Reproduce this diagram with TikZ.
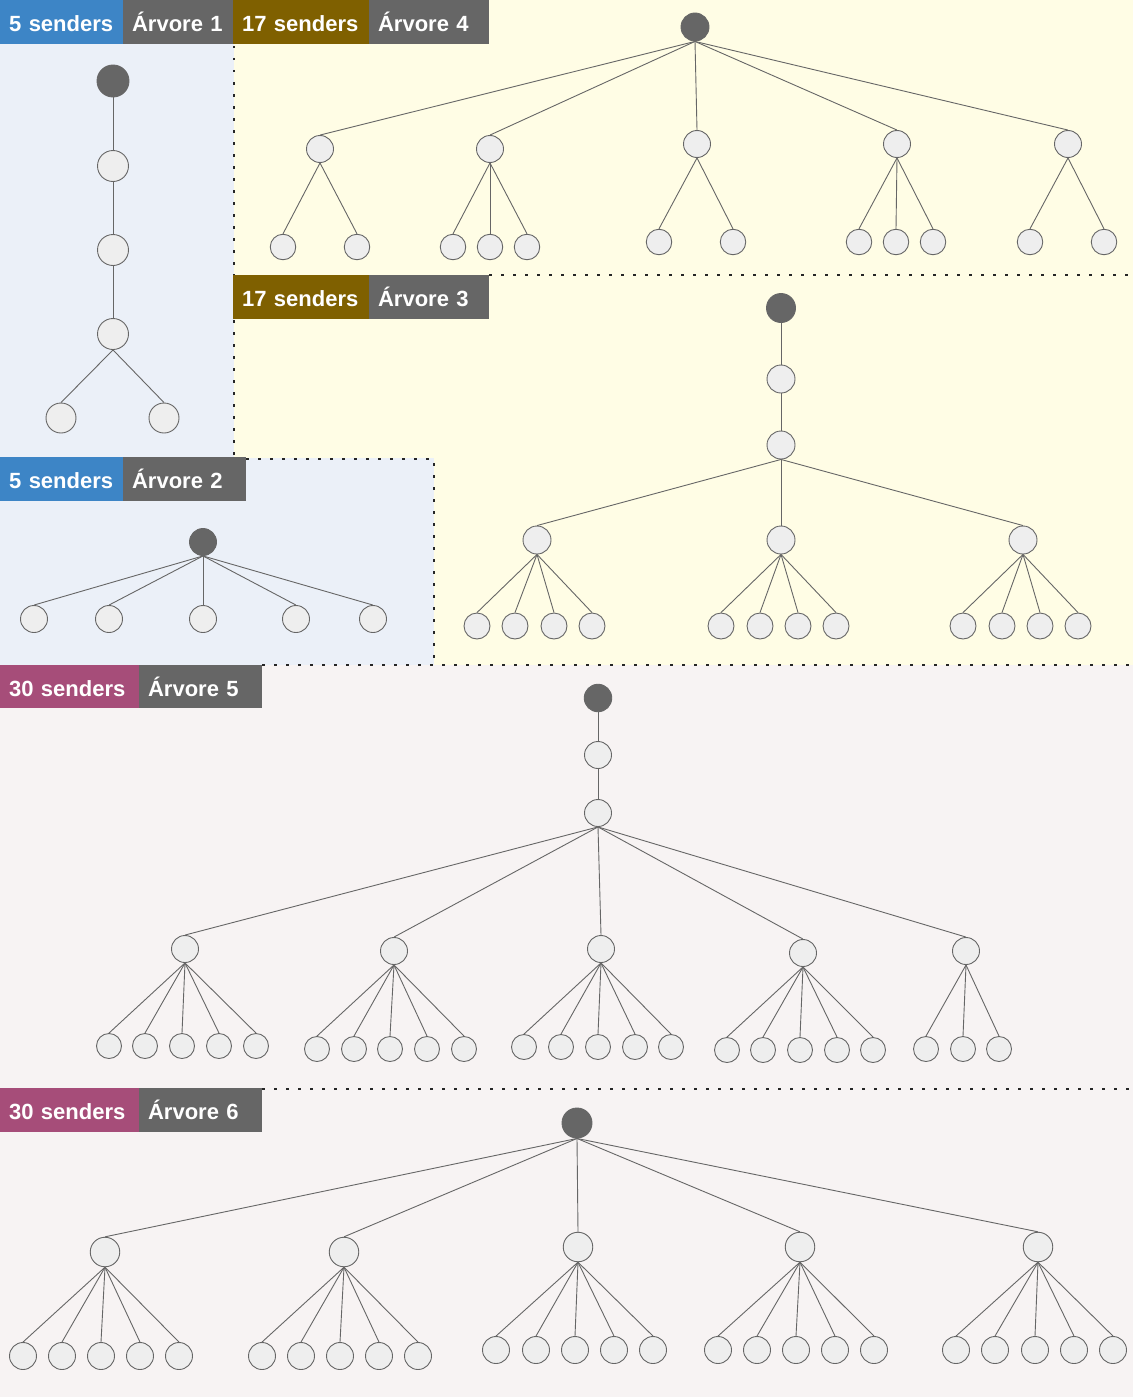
\documentclass[tikz,border=0pt]{standalone}
\usepackage{fontspec}
\setmainfont{Liberation Sans}
\usetikzlibrary{positioning}
\definecolor{sblue}{HTML}{3D85C6}
\definecolor{sbrown}{HTML}{7F6000}
\definecolor{spink}{HTML}{A64D79}
\definecolor{sgrey}{HTML}{666666}
\definecolor{bgblue}{HTML}{EBF0F8}
\definecolor{bgyellow}{HTML}{FFFDE5}
\definecolor{bgpink}{HTML}{F7F3F3}
\definecolor{ndfill}{HTML}{EEEEEE}
\tikzset{
  tag/.style={anchor=north west, fill=sgrey, text=white, inner xsep=9pt, inner ysep=0pt,
    minimum height=43.5pt, align=left, text height=22pt, text depth=2pt,
    font=\bfseries\fontsize{22}{24}\selectfont},
  nd/.style={circle, draw=sgrey, fill=ndfill, line width=0.9pt, inner sep=0pt, minimum size=#1},
  nd/.default=26pt,
  rt/.style={nd=#1, fill=sgrey},
  rt/.default=28pt,
  ed/.style={draw=sgrey, line width=0.9pt},
  sep/.style={draw=black!85, line width=2.5pt, dash pattern=on 2.5pt off 9.5pt},
}
\begin{document}
\begin{tikzpicture}[x=1pt, y=-1pt]
  \useasboundingbox (0,0) rectangle (1133,1397);
  % areas
  \fill[bgpink] (0,0) rectangle (1133,1397);
  \fill[bgyellow] (234,0) rectangle (1133,665);
  \fill[bgblue] (0,0) rectangle (234,458);
  \fill[bgblue] (0,458) rectangle (434,665);

  % tags
  \node[tag, fill=sblue, text width=105pt] (s1) at (0,0) {5 senders};
  \node[tag, text width=92pt, right=-0.5pt of s1] (a1) {Árvore 1};
  \node[tag, fill=sbrown, text width=118pt] (s4) at (233,0) {17 senders};
  \node[tag, text width=102pt, right=-0.5pt of s4] (a4) {Árvore 4};
  \node[tag, fill=sbrown, text width=118pt] (s3) at (233,275) {17 senders};
  \node[tag, text width=102pt, right=-0.5pt of s3] (a3) {Árvore 3};
  \node[tag, fill=sblue, text width=105pt] (s2) at (0,457) {5 senders};
  \node[tag, text width=104.7pt, right=-0.5pt of s2] (a2) {Árvore 2};
  \node[tag, fill=spink, text width=121pt] (s5) at (0,664.5) {30 senders};
  \node[tag, text width=105pt, right=-0.5pt of s5] (a5) {Árvore 5};
  \node[tag, fill=spink, text width=121pt] (s6) at (0,1088) {30 senders};
  \node[tag, text width=105pt, right=-0.5pt of s6] (a6) {Árvore 6};

  % dotted borders
  \draw[sep] (234,46) -- (234,275);
  \draw[sep] (234,320) -- (234,458);
  \draw[sep] (a3.north east) -- (1133,275);
  \draw[sep] (a2.north east |- 0,459) -- (434,459) -- (434,665);
  \draw[sep] (a5.north east |- 0,665) -- (1133,665);
  \draw[sep] (a6.north east |- 0,1089) -- (1133,1089);

  % Arvore 1
  \node[rt=32pt] (r1) at (113,81) {};
  \node[nd=31pt] (r1a) at (113,166) {};
  \node[nd=31pt] (r1b) at (113,250) {};
  \node[nd=31pt] (r1c) at (113,334) {};
  \node[nd=30pt] (r1l1) at (61,418) {};
  \node[nd=30pt] (r1l2) at (164,418) {};
  \draw[ed] (r1) -- (r1a) -- (r1b) -- (r1c);
  \draw[ed] (r1c.south) -- (r1l1.north);
  \draw[ed] (r1c.south) -- (r1l2.north);

  % Arvore 2
  \node[rt=27pt] (r2) at (203,542) {};
  \foreach \x [count=\i] in {34,109,203,296,373}{
    \node[nd=27pt] (r2l\i) at (\x,619) {};
    \draw[ed] (r2.south) -- (r2l\i.north);
  }

  % Arvore 4
  \node[rt=28pt] (r4) at (695,27) {};
  \foreach \x/\y [count=\i] in {320/149, 490/149, 697/144, 897/144, 1068/144}{
    \node[nd=27pt] (r4c\i) at (\x,\y) {};
    \draw[ed] (r4.south) -- (r4c\i.north);
  }
  \foreach \p/\x/\y [count=\i] in {1/283/247, 1/357/247, 2/453/247, 2/490/247, 2/527/247,
      3/659/242, 3/733/242, 4/859/242, 4/896/242, 4/933/242, 5/1030/242, 5/1104/242}{
    \node[nd=25.5pt] (r4l\i) at (\x,\y) {};
    \draw[ed] (r4c\p.south) -- (r4l\i.north);
  }

  % Arvore 3
  \node[rt=29pt] (r3) at (781,308) {};
  \node[nd=28pt] (r3a) at (781,379) {};
  \node[nd=28pt] (r3b) at (781,445) {};
  \draw[ed] (r3) -- (r3a) -- (r3b);
  \foreach \x [count=\i] in {537,781,1023}{
    \node[nd=28pt] (r3c\i) at (\x,540) {};
    \draw[ed] (r3b.south) -- (r3c\i.north);
  }
  \foreach \p/\x [count=\i] in {1/477,1/515,1/554,1/592, 2/721,2/760,2/798,2/836,
      3/963,3/1002,3/1040,3/1078}{
    \node[nd=26pt] (r3l\i) at (\x,626) {};
    \draw[ed] (r3c\p.south) -- (r3l\i.north);
  }

  % Arvore 5
  \node[rt=27.5pt] (r5) at (598,698) {};
  \node[nd=27pt] (r5a) at (598,755) {};
  \node[nd=27pt] (r5b) at (598,813) {};
  \draw[ed] (r5) -- (r5a) -- (r5b);
  \foreach \x/\y [count=\i] in {185/949, 394/951, 601/949, 803/953, 966/951}{
    \node[nd=27pt] (r5c\i) at (\x,\y) {};
    \draw[ed] (r5b.south) -- (r5c\i.north);
  }
  \foreach \p/\x/\y [count=\i] in {1/109/1046, 1/145/1046, 1/182/1046, 1/219/1046, 1/256/1046,
      2/317/1049, 2/354/1049, 2/390/1049, 2/427/1049, 2/464/1049,
      3/524/1047, 3/561/1047, 3/598/1047, 3/635/1047, 3/671/1047,
      4/727/1050, 4/763/1050, 4/800/1050, 4/837/1050, 4/873/1050,
      5/926/1049, 5/963/1049, 5/999/1049}{
    \node[nd=25pt] (r5l\i) at (\x,\y) {};
    \draw[ed] (r5c\p.south) -- (r5l\i.north);
  }

  % Arvore 6
  \node[rt=30pt] (r6) at (577,1123) {};
  \foreach \x/\y [count=\i] in {105/1252, 344/1252, 578/1247, 800/1247, 1038/1247}{
    \node[nd=29.5pt] (r6c\i) at (\x,\y) {};
    \draw[ed] (r6.south) -- (r6c\i.north);
  }
  \foreach \p/\x/\y [count=\i] in {1/23/1356, 1/62/1356, 1/101/1356, 1/140/1356, 1/179/1356,
      2/262/1356, 2/301/1356, 2/340/1356, 2/379/1356, 2/418/1356,
      3/496/1350, 3/536/1350, 3/575/1350, 3/614/1350, 3/653/1350,
      4/718/1350, 4/757/1350, 4/796/1350, 4/835/1350, 4/874/1350,
      5/956/1350, 5/995/1350, 5/1035/1350, 5/1074/1350, 5/1113/1350}{
    \node[nd=27pt] (r6l\i) at (\x,\y) {};
    \draw[ed] (r6c\p.south) -- (r6l\i.north);
  }
\end{tikzpicture}
\end{document}
